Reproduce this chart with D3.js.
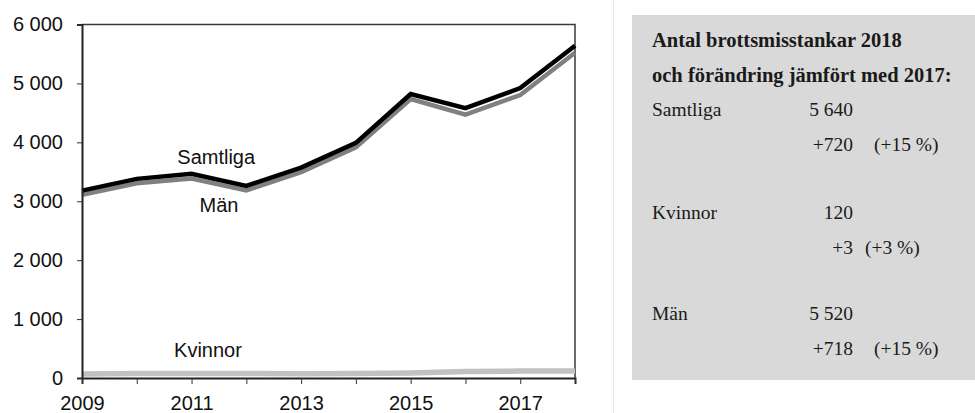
<!DOCTYPE html>
<html>
<head>
<meta charset="utf-8">
<script src="https://cdn.jsdelivr.net/npm/d3@7"></script>
<style>
  html, body { margin: 0; padding: 0; background: #fff; }
  svg { display: block; }
</style>
</head>
<body>
<svg id="chart" width="975" height="413"></svg>
<script>
// ---- data ----
const years = [2009, 2010, 2011, 2012, 2013, 2014, 2015, 2016, 2017, 2018];
const samtliga = [3180, 3380, 3465, 3260, 3570, 3990, 4820, 4580, 4920, 5640];
const man = [3110, 3305, 3385, 3185, 3495, 3915, 4735, 4470, 4802, 5520];
const kvinnor = [70, 75, 78, 75, 72, 75, 85, 110, 117, 120];
const yTicks = [0, 1000, 2000, 3000, 4000, 5000, 6000];
const xTickLabels = [2009, 2011, 2013, 2015, 2017];
const seriesNames = ["Samtliga", "Män", "Kvinnor"];
// series label anchor points (year, value)
const labelYears = [2011.45, 2011.5, 2011.3];
const labelValues = [3640, 2810, 360];

const panelTitle = ["Antal brottsmisstankar 2018", "och förändring jämfört med 2017:"];
const panelNames = ["Samtliga", "Kvinnor", "Män"];
const panelValues = ["5 640", "120", "5 520"];
const panelChanges = ["+720", "+3", "+718"];
const panelPercents = ["(+15 %)", "(+3 %)", "(+15 %)"];

// ---- chart ----
const svg = d3.select("#chart");
const x = d3.scaleLinear().domain([2009, 2018]).range([82, 575]);
const y = d3.scaleLinear().domain([0, 6000]).range([378, 24.5]);
const fmt = d3.formatLocale({decimal: ",", thousands: " ", grouping: [3], currency: ["", ""]}).format(",d");

const line = d3.line().x((d, i) => x(years[i])).y(d => y(d));

// frame top and right
svg.append("path")
  .attr("d", `M${x(2009)},${y(6000)}H${x(2018)}V${y(0)}`)
  .attr("fill", "none").attr("stroke", "#3a3a3a").attr("stroke-width", 1.5);

// lines
svg.append("path").datum(kvinnor).attr("d", line)
  .attr("fill", "none").attr("stroke", "#c2c2c2").attr("stroke-width", 5.5);
svg.append("path").datum(man).attr("d", line)
  .attr("fill", "none").attr("stroke", "#808080").attr("stroke-width", 4.5);
svg.append("path").datum(samtliga).attr("d", line)
  .attr("fill", "none").attr("stroke", "#000").attr("stroke-width", 4.5);

// axes
const yAxis = svg.append("g").attr("transform", `translate(${x(2009)},0)`)
  .call(d3.axisLeft(y).tickValues(yTicks).tickSize(5).tickPadding(14).tickFormat(fmt));
const xAxis = svg.append("g").attr("transform", `translate(0,${y(0)})`)
  .call(d3.axisBottom(x).tickValues(years).tickSize(6).tickPadding(12)
    .tickFormat(d => xTickLabels.includes(d) ? String(d) : ""));

[yAxis, xAxis].forEach(g => {
  g.select(".domain").attr("stroke", "#222").attr("stroke-width", 2);
  g.selectAll(".tick line").attr("stroke", "#333").attr("stroke-width", 1);
  g.selectAll("text").attr("font-family", "'Liberation Sans', Arial, sans-serif")
    .attr("font-size", 20).attr("fill", "#111");
});

// series labels
svg.append("g").selectAll("text").data(seriesNames).join("text")
  .attr("x", (d, i) => x(labelYears[i]))
  .attr("y", (d, i) => y(labelValues[i]))
  .attr("text-anchor", "middle")
  .attr("font-family", "'Liberation Sans', Arial, sans-serif")
  .attr("font-size", 20).attr("fill", "#111")
  .text(d => d);

// ---- side panel ----
svg.append("line").attr("x1", 613.5).attr("x2", 613.5).attr("y1", 0).attr("y2", 413)
  .attr("stroke", "#e8e8e8").attr("stroke-width", 1);
svg.append("rect").attr("x", 632).attr("y", 15).attr("width", 343).attr("height", 365)
  .attr("fill", "#d9d9d9");

const serif = "'Liberation Serif', 'Times New Roman', serif";
const panel = svg.append("g").attr("font-family", serif).attr("fill", "#1a1a1a");
panel.selectAll("text.title").data(panelTitle).join("text").attr("class", "title")
  .attr("x", 652).attr("y", (d, i) => [47, 82][i])
  .attr("font-size", 20.5).attr("font-weight", "bold").text(d => d);

const rowY = [[116, 151], [219, 254], [320, 355]];
const pctX = [874, 865, 874];
panelNames.forEach((name, i) => {
  panel.append("text").attr("x", 652).attr("y", rowY[i][0]).attr("font-size", 19.5).text(name);
  panel.append("text").attr("x", 853).attr("y", rowY[i][0]).attr("font-size", 19.5)
    .attr("text-anchor", "end").text(panelValues[i]);
  panel.append("text").attr("x", 853).attr("y", rowY[i][1]).attr("font-size", 19.5)
    .attr("text-anchor", "end").text(panelChanges[i]);
  panel.append("text").attr("x", pctX[i]).attr("y", rowY[i][1]).attr("font-size", 19.5)
    .text(panelPercents[i]);
});
</script>
</body>
</html>
